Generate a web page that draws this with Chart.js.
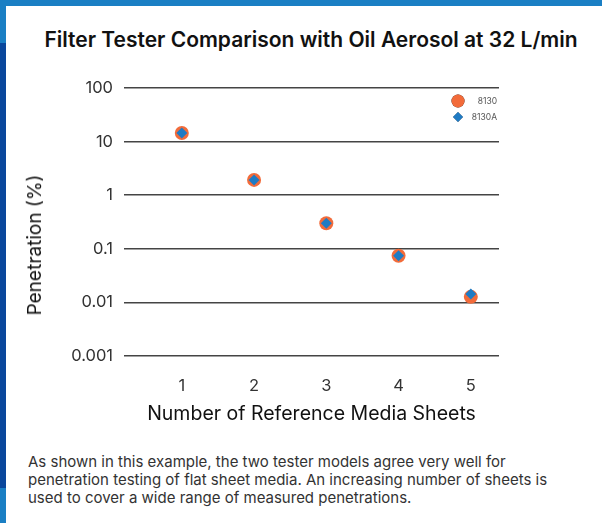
<!DOCTYPE html>
<html>
<head>
<meta charset="utf-8">
<script src="https://cdn.jsdelivr.net/npm/chart.js@4.4.1/dist/chart.umd.min.js"></script>
<style>
  html, body { margin: 0; padding: 0; background: #fff; }
  #page { position: relative; width: 602px; height: 523px; overflow: hidden; background: #fff; font-family: Inter, "Noto Sans", sans-serif; }
  .bar { position: absolute; }
  #wrap { position: absolute; left: 6px; top: 6px; width: 596px; height: 434px; }
  #title { position: absolute; left: 11px; width: 600px; top: 27px; text-align: center; font-size: 21px; font-weight: 600; color: #111; line-height: 26px; white-space: nowrap; }
  #ytitle { position: absolute; left: 35px; top: 245px; transform: translate(-50%, -50%) rotate(-90deg); font-size: 19px; color: #111; white-space: nowrap; line-height: 22px; }
  #caption { position: absolute; left: 28px; top: 453px; font-size: 15px; line-height: 18px; color: #333; white-space: nowrap; }
</style>
</head>
<body>
<div id="page">
  <div class="bar" style="left:0;top:0;width:602px;height:6px;background:#1a7fc4"></div>
  <div class="bar" style="left:0;top:0;width:6px;height:43px;background:#1a7fc4"></div>
  <div class="bar" style="left:0;top:43px;width:6px;height:445px;background:#0a479c"></div>
  <div class="bar" style="left:0;top:488px;width:6px;height:35px;background:#1a7fc4"></div>
  <div id="title">Filter Tester Comparison with Oil Aerosol at 32 L/min</div>
  <div id="wrap"><canvas id="myChart"></canvas></div>
  <div id="ytitle">Penetration (%)</div>
  <div id="caption">As shown in this example, the two tester models agree very well for<br>penetration testing of flat sheet media. An increasing number of sheets is<br>used to cover a wide range of measured penetrations.</div>
</div>
<script>
// donnees
let sheets = [1, 2, 3, 4, 5];
let pen8130 = [14.5, 1.93, 0.30, 0.074, 0.0127];
let pen8130A = [14.5, 1.93, 0.30, 0.074, 0.0143];
let yTicks = [0.001, 0.01, 0.1, 1, 10, 100];
let yLabels = ['0.001', '0.01', '0.1', '1', '10', '100'];
let seriesNames = ['8130', '8130A'];

const orange = '#f26b3a';
const blue = '#1f7bc4';

function toPoints(vals) {
    return sheets.map((s, i) => ({ x: s, y: vals[i] }));
}

// legende dessinee dans la zone du graphique
const innerLegend = {
    id: 'innerLegend',
    afterDraw(chart) {
        const ctx = chart.ctx;
        const area = chart.chartArea;
        const xm = area.right - 41;
        const xt = area.right - 2;
        ctx.save();
        ctx.font = '8.5px Inter, sans-serif';
        ctx.textAlign = 'right';
        ctx.textBaseline = 'middle';
        chart.data.datasets.forEach((ds, i) => {
            const y = area.top + 13 + i * 16;
            Chart.helpers.drawPoint(ctx, {
                pointStyle: ds.pointStyle,
                radius: i === 0 ? 6.5 : 5,
                borderWidth: 0
            }, xm, y);
            ctx.fillStyle = ds.backgroundColor;
            ctx.fill();
            ctx.fillStyle = '#555';
            ctx.fillText(ds.label, xt, y);
        });
        ctx.restore();
    }
};

const ctx = document.getElementById('myChart').getContext('2d');
const myChart = new Chart(ctx, {
    type: 'scatter',
    data: {
        datasets: [
            {
                label: seriesNames[0],
                data: toPoints(pen8130),
                pointStyle: 'circle',
                pointRadius: 7,
                pointHoverRadius: 7,
                backgroundColor: orange,
                borderWidth: 0,
                order: 1
            },
            {
                label: seriesNames[1],
                data: toPoints(pen8130A),
                pointStyle: 'rectRot',
                pointRadius: 5.5,
                pointHoverRadius: 5.5,
                backgroundColor: blue,
                borderWidth: 0,
                order: 0
            }
        ]
    },
    options: {
        responsive: true,
        maintainAspectRatio: false,
        animation: false,
        layout: { padding: { left: 10, right: 103, top: 82, bottom: 6 } },
        plugins: {
            legend: { display: false },
            tooltip: { enabled: false },
            title: { display: false }
        },
        scales: {
            x: {
                type: 'linear',
                min: 0.2,
                max: 5.39,
                afterBuildTicks: (scale) => {
                    scale.ticks = sheets.map(v => ({ value: v }));
                },
                afterFit: (scale) => { scale.height = 78; },
                grid: { display: false, drawTicks: false },
                border: { display: false },
                ticks: {
                    color: '#333',
                    font: { family: 'Inter', size: 16.5 },
                    padding: 20,
                    callback: (v) => String(v)
                },
                title: {
                    display: true,
                    text: 'Number of Reference Media Sheets',
                    color: '#111',
                    font: { family: 'Inter', size: 19.5 },
                    padding: { top: 0, bottom: 8 }
                }
            },
            y: {
                type: 'logarithmic',
                min: 0.001,
                max: 100,
                afterBuildTicks: (scale) => {
                    scale.ticks = yTicks.map(v => ({ value: v }));
                },
                afterFit: (scale) => { scale.width = 108; },
                grid: { color: '#444', lineWidth: 1.5, drawTicks: false },
                border: { display: false },
                ticks: {
                    color: '#333',
                    font: { family: 'Inter', size: 16.5 },
                    padding: 11,
                    callback: (v) => {
                        const k = yTicks.indexOf(v);
                        return k >= 0 ? yLabels[k] : '';
                    }
                }
            }
        }
    },
    plugins: [innerLegend]
});
</script>
</body>
</html>
